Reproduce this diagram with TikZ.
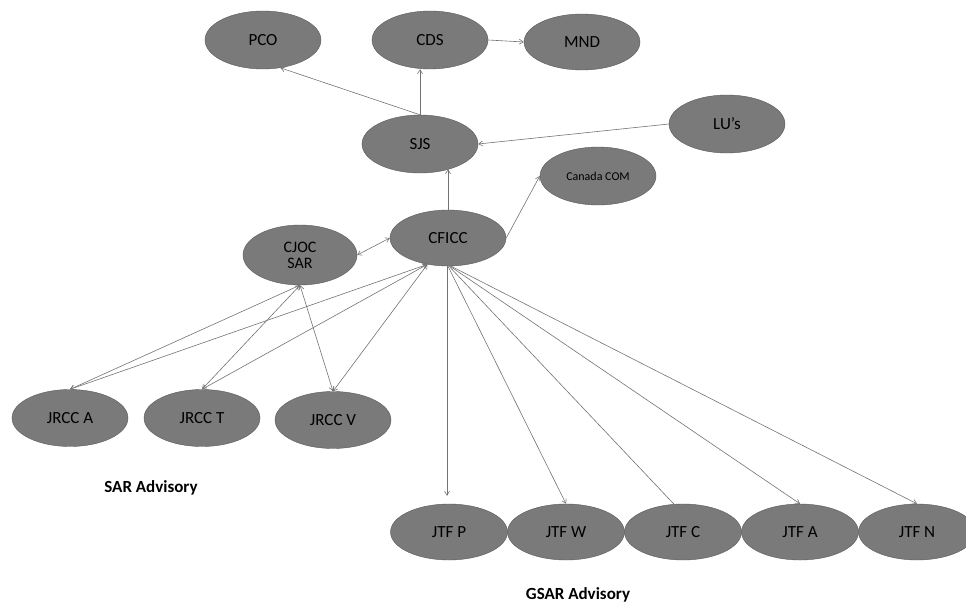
\documentclass[tikz,border=0pt]{standalone}
\usepackage{fontspec}
\setmainfont{Carlito}
\usetikzlibrary{shapes.geometric,arrows.meta}
\tikzset{
  el/.style={ellipse, fill=black!52, draw=black!65, line width=0.4pt, inner sep=0pt,
             minimum width=116pt, minimum height=58pt, font=\fontsize{17}{18}\selectfont, text=black},
  jtf/.style={el, minimum width=117pt, minimum height=56pt},
  conn/.style={draw=black!55, line width=0.6pt, -{Straight Barb[length=4pt,width=5pt]}},
  conn2/.style={draw=black!55, line width=0.6pt, {Straight Barb[length=4pt,width=5pt]}-{Straight Barb[length=4pt,width=5pt]}},
  plain/.style={draw=black!55, line width=0.6pt},
  captext/.style={font=\bfseries\fontsize{17}{18}\selectfont, text=black}
}
\begin{document}
\begin{tikzpicture}[x=1pt,y=-1pt]
\useasboundingbox (0,0) rectangle (966,610);
% nodes
\node[el] (pco) at (263,40) {PCO};
\node[el] (cds) at (430,40) {CDS};
\node[el, minimum height=56pt] (mnd) at (582,42) {MND};
\node[el] (sjs) at (420,144) {SJS};
\node[el] (lus) at (727,124) {LU's};
\node[el, font=\fontsize{12}{13}\selectfont] (ccom) at (598,176) {Canada COM};
\node[el, minimum height=56pt] (cficc) at (448,238) {CFICC};
\node[el, minimum width=114pt, minimum height=60pt, align=center, font=\fontsize{16}{16}\selectfont] (sar) at (300,255) {CJOC\\SAR};
\node[el, minimum height=57pt] (jrcca) at (70,418) {JRCC A};
\node[el, minimum height=57pt] (jrcct) at (202,418) {JRCC T};
\node[el, minimum height=57pt] (jrccv) at (333,420) {JRCC V};
\node[jtf] (jtfp) at (449,532) {JTF P};
\node[jtf] (jtfw) at (566,532) {JTF W};
\node[jtf] (jtfc) at (683,532) {JTF C};
\node[jtf] (jtfa) at (800,532) {JTF A};
\node[jtf] (jtfn) at (917,532) {JTF N};
\node[captext] (sara) at (151,488) {SAR Advisory};
\node[captext] (gsara) at (578,595) {GSAR Advisory};
% connectors
\draw[conn] (sjs.north) -- (pco.-58);
\draw[conn] (sjs.north) -- (sjs.north |- cds.south);
\draw[conn] (cds.east) -- (mnd.west);
\draw[conn] (lus.west) -- (sjs.east);
\draw[conn] (cficc.north) -- ([yshift=4pt]cficc.north |- sjs.south);
\draw[conn] (cficc.east) -- (ccom.west);
\draw[conn2] (sar.east) -- (cficc.west);
\draw[conn2] (sar.south) -- (jrcca.north);
\draw[conn2] (sar.south) -- (jrcct.north);
\draw[conn2] (sar.south) -- (jrccv.north);
\draw[conn2] (cficc.-128) -- (jrcca.north);
\draw[conn2] (cficc.-128) -- (jrcct.north);
\draw[conn2] (cficc.-128) -- (jrccv.north);
\draw[conn, shorten >=8pt] (cficc.-92) -- (cficc.-92 |- jtfp.north);
\draw[conn] (cficc.-90) -- (jtfw.north);
\draw[plain] (cficc.-88) -- (jtfc.108);
\draw[conn] (cficc.-86) -- (jtfa.north);
\draw[conn] (cficc.-84) -- (jtfn.north);
\end{tikzpicture}
\end{document}
